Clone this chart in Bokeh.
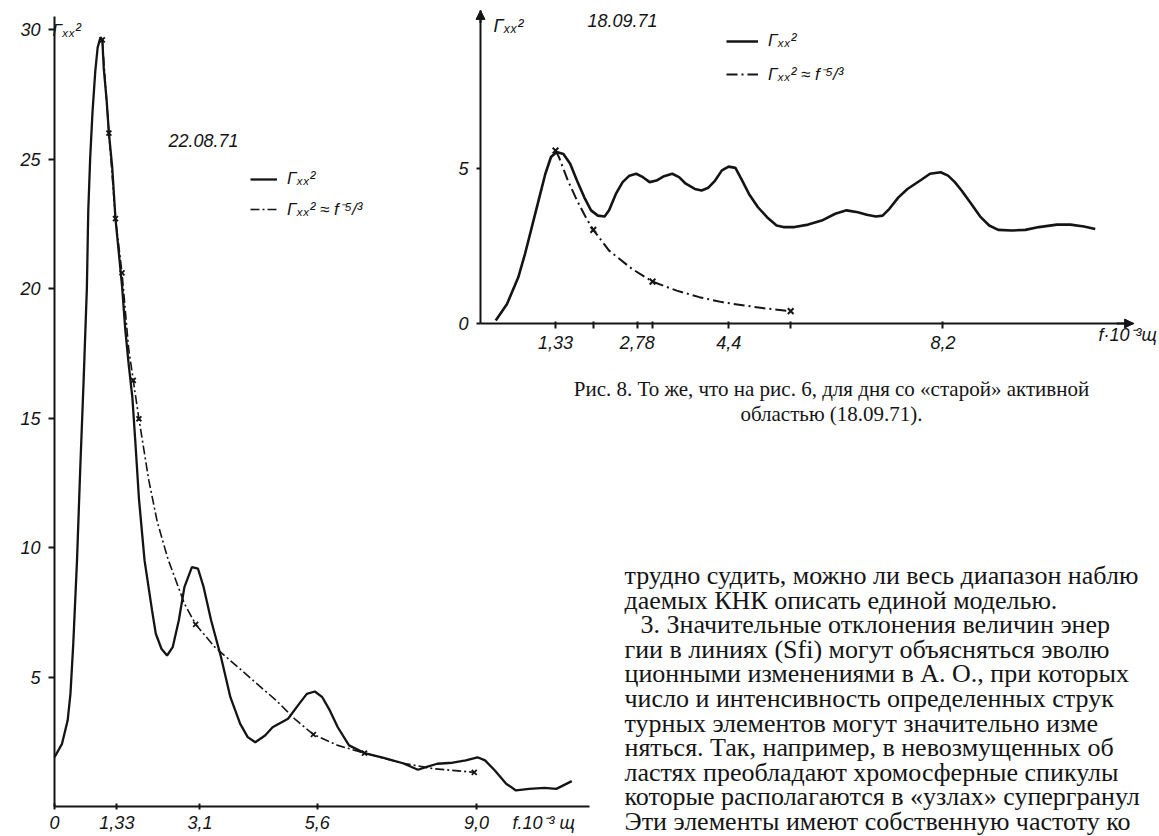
from bokeh.plotting import figure
from bokeh.models import Range1d, LinearAxis, FixedTicker, Legend, LegendItem, Arrow, NormalHead
from bokeh.core.properties import value
from bokeh.embed import file_html
from bokeh.resources import INLINE

# ---------------- data: left chart (22.08.71) ----------------
left_f = [0.00, 0.16, 0.28, 0.34, 0.40, 0.48, 0.55, 0.62, 0.69, 0.72, 0.76, 0.81, 0.87, 0.92, 0.98,
          1.02, 1.05, 1.11, 1.16, 1.23, 1.30, 1.37, 1.44, 1.51, 1.58, 1.66, 1.73, 1.80, 1.92, 2.08,
          2.16, 2.28, 2.40, 2.52, 2.65, 2.77, 2.93, 3.06, 3.18, 3.34, 3.55, 3.75, 3.96, 4.12, 4.28,
          4.49, 4.65, 4.98, 5.22, 5.38, 5.55, 5.71, 5.87, 6.04, 6.28, 6.61, 7.02, 7.43, 7.75, 7.92,
          8.16, 8.49, 8.77, 9.02, 9.18, 9.39, 9.63, 9.84, 10.12, 10.45, 10.70, 11.03]
left_g = [1.90, 2.42, 3.32, 4.35, 6.28, 9.50, 13.1, 16.4, 20.0, 23.0, 25.0, 26.8, 28.4, 29.3, 29.7,
          29.6, 28.5, 27.3, 26.0, 24.7, 22.7, 21.4, 20.1, 18.4, 17.1, 15.8, 13.9, 11.9, 9.5, 7.57,
          6.67, 6.09, 5.83, 6.15, 7.18, 8.47, 9.24, 9.18, 8.47, 7.18, 5.77, 4.22, 3.19, 2.68, 2.48,
          2.74, 3.06, 3.39, 3.97, 4.35, 4.44, 4.22, 3.71, 3.06, 2.36, 2.06, 1.88, 1.67, 1.42, 1.52,
          1.65, 1.69, 1.78, 1.90, 1.78, 1.39, 0.88, 0.62, 0.68, 0.72, 0.68, 0.98]
left_fit_f = [1.02, 1.16, 1.30, 1.44, 1.58, 1.68, 1.80, 2.01, 2.19, 2.42, 2.77, 3.01, 3.42, 3.83,
              4.24, 4.73, 5.14, 5.52, 6.04, 6.61, 7.43, 8.08, 8.95]
left_fit_g = [29.6, 26.0, 22.7, 20.6, 17.7, 16.45, 14.97, 12.6, 11.0, 9.55, 7.83, 7.03, 6.15, 5.51,
              4.86, 4.09, 3.35, 2.78, 2.36, 2.06, 1.67, 1.46, 1.32]
left_mark_f = [1.02, 1.16, 1.30, 1.44, 1.68, 1.80, 3.01, 5.52, 6.61, 8.95]
left_mark_g = [29.6, 26.0, 22.7, 20.6, 16.45, 14.97, 7.03, 2.78, 2.06, 1.32]
left_xticks = [0, 1.33, 3.1, 5.6, 9.0]
left_xlabels = ["0", "1,33", "3,1", "5,6", "9,0"]
left_yticks = [5, 10, 15, 20, 25, 30]

# ---------------- data: right chart (18.09.71) ----------------
right_f = [0.27, 0.47, 0.67, 0.79, 0.91, 1.03, 1.15, 1.25, 1.35, 1.47, 1.59, 1.71, 1.84, 1.96, 2.08,
           2.20, 2.28, 2.40, 2.52, 2.64, 2.76, 2.88, 3.00, 3.12, 3.24, 3.40, 3.52, 3.64, 3.80, 3.92,
           4.04, 4.16, 4.28, 4.40, 4.52, 4.64, 4.76, 4.92, 5.08, 5.25, 5.37, 5.57, 5.81, 6.05, 6.29,
           6.49, 6.69, 6.85, 7.01, 7.13, 7.25, 7.41, 7.57, 7.81, 7.97, 8.16, 8.29, 8.41, 8.53, 8.70,
           8.86, 9.02, 9.18, 9.42, 9.66, 9.90, 10.22, 10.46, 10.70, 10.90]
right_g = [0.10, 0.63, 1.49, 2.25, 3.11, 3.97, 4.83, 5.37, 5.53, 5.47, 5.15, 4.61, 4.07, 3.65, 3.48,
           3.45, 3.65, 4.18, 4.56, 4.77, 4.83, 4.72, 4.56, 4.61, 4.74, 4.83, 4.72, 4.51, 4.34, 4.29,
           4.38, 4.61, 4.94, 5.06, 5.02, 4.61, 4.18, 3.75, 3.43, 3.16, 3.11, 3.11, 3.19, 3.32, 3.54,
           3.65, 3.59, 3.51, 3.45, 3.48, 3.70, 4.07, 4.34, 4.63, 4.83, 4.88, 4.77, 4.56, 4.29, 3.86,
           3.45, 3.16, 3.02, 3.00, 3.02, 3.11, 3.19, 3.19, 3.13, 3.05]
right_fit_f = [1.33, 1.39, 1.55, 1.71, 1.88, 2.00, 2.28, 2.68, 3.05, 3.48, 3.88, 4.28, 4.68, 5.08, 5.50]
right_fit_g = [5.58, 5.37, 4.61, 3.97, 3.38, 3.02, 2.35, 1.77, 1.35, 1.06, 0.85, 0.69, 0.58, 0.48, 0.40]
right_mark_f = [1.33, 2.00, 3.05, 5.50]
right_mark_g = [5.58, 3.02, 1.35, 0.40]
right_xticks = [1.33, 2.0, 2.78, 3.05, 4.4, 5.5, 8.2]
right_xlabels = ["1,33", "", "2,78", "", "4,4", "", "8,2"]
right_yticks = [0, 5]

caption_lines = ["Рис. 8. То же, что на рис. 6, для дня со «старой» активной",
                 "областью (18.09.71)."]
para_lines = ["трудно судить, можно ли весь диапазон наблю",
              "даемых КНК описать единой моделью.",
              "3. Значительные отклонения величин энер",
              "гии в линиях (Sfi) могут объясняться эволю",
              "ционными изменениями в А. О., при которых",
              "число и интенсивность определенных струк",
              "турных элементов могут значительно изме",
              "няться. Так, например, в невозмущенных об",
              "ластях преобладают хромосферные спикулы",
              "которые располагаются в «узлах» супергранул",
              "Эти элементы имеют собственную частоту ко"]

# ---------------- layout / calibration (reference-image pixels) ----------------
INK = "#141414"
W, H = 1159, 836
PX0, PX1 = 0, W
PY0, PY1 = 0, H
L_X0, L_XS, L_Y0, L_YS = 54.0, 46.9, 806.0, 25.9
R_X0, R_XS, R_Y0, R_YS = 480.0, 56.4, 323.0, 31.0
L_XEND, L_YTOP = 11.4, 30.5
R_XEND, R_YTOP = 11.58, 10.1
LAB = "Liberation Sans"


def xr(x0, xs):
    return Range1d((PX0 - x0) / xs, (PX1 - x0) / xs)


def yr(y0, ys):
    return Range1d((y0 - PY1) / ys, (y0 - PY0) / ys)


p = figure(width=W, height=H, x_range=Range1d(PX0, PX1), y_range=Range1d(PY1, PY0),
           x_axis_type=None, y_axis_type=None, output_backend="svg", toolbar_location=None,
           min_border=0, outline_line_color=None, background_fill_color="white",
           border_fill_color="white")
p.title.visible = False
p.extra_x_ranges = {"lx": xr(L_X0, L_XS), "rx": xr(R_X0, R_XS)}
p.extra_y_ranges = {"ly": yr(L_Y0, L_YS), "ry": yr(R_Y0, R_YS)}


def style_axis(ax, size, standoff, tin, tout):
    ax.axis_line_color = INK
    ax.axis_line_width = 2
    ax.major_tick_line_color = INK
    ax.major_tick_line_width = 2
    ax.major_tick_in = tin
    ax.major_tick_out = tout
    ax.minor_tick_in = 0
    ax.minor_tick_out = 0
    ax.major_label_text_font = LAB
    ax.major_label_text_font_style = "italic"
    ax.major_label_text_font_size = size
    ax.major_label_text_color = INK
    ax.major_label_standoff = standoff


# left chart axes
lxa = LinearAxis(x_range_name="lx", y_range_name="ly", fixed_location=0, bounds=(0, L_XEND),
                 ticker=FixedTicker(ticks=left_xticks, minor_ticks=[]),
                 major_label_overrides=dict(zip(left_xticks, left_xlabels)))
style_axis(lxa, "18px", 6, 3, 3)
p.add_layout(lxa, "below")
lya = LinearAxis(x_range_name="lx", y_range_name="ly", fixed_location=0, bounds=(0, L_YTOP),
                 ticker=FixedTicker(ticks=left_yticks, minor_ticks=[]))
style_axis(lya, "18px", 8, 0, 6)
p.add_layout(lya, "left")

# right chart axes
rxa = LinearAxis(x_range_name="rx", y_range_name="ry", fixed_location=0, bounds=(0, R_XEND),
                 ticker=FixedTicker(ticks=right_xticks, minor_ticks=[]),
                 major_label_overrides=dict(zip(right_xticks, right_xlabels)))
style_axis(rxa, "18px", 7, 2, 5)
p.add_layout(rxa, "below")
rya = LinearAxis(x_range_name="rx", y_range_name="ry", fixed_location=0, bounds=(0, R_YTOP),
                 ticker=FixedTicker(ticks=right_yticks, minor_ticks=[]))
style_axis(rya, "18px", 8, 0, 4)
p.add_layout(rya, "left")
p.add_layout(Arrow(end=NormalHead(size=9, fill_color=INK, line_color=INK), line_color=INK, line_width=2,
                   x_start=0, y_start=R_YTOP - 0.4, x_end=0, y_end=R_YTOP,
                   x_range_name="rx", y_range_name="ry"))
p.add_layout(Arrow(end=NormalHead(size=9, fill_color=INK, line_color=INK), line_color=INK, line_width=2,
                   x_start=R_XEND - 0.3, y_start=0, x_end=R_XEND, y_end=0,
                   x_range_name="rx", y_range_name="ry"))

# left chart curves
l_solid = p.line(left_f, left_g, x_range_name="lx", y_range_name="ly", line_color=INK, line_width=2.3)
l_fit = p.line(left_fit_f, left_fit_g, x_range_name="lx", y_range_name="ly", line_color=INK,
               line_width=1.6, line_dash="9 3 2 3")
p.scatter(left_mark_f, left_mark_g, x_range_name="lx", y_range_name="ly", marker="x", size=7,
          line_color=INK, line_width=1.8)

# right chart curves
r_solid = p.line(right_f, right_g, x_range_name="rx", y_range_name="ry", line_color=INK, line_width=2.6)
r_fit = p.line(right_fit_f, right_fit_g, x_range_name="rx", y_range_name="ry", line_color=INK,
               line_width=2.0, line_dash="11 4 2 4")
p.scatter(right_mark_f, right_mark_g, x_range_name="rx", y_range_name="ry", marker="x", size=8,
          line_color=INK, line_width=2)

# legends (location = bottom-left corner, in pixels from the bottom-left of the canvas)
G = "Γₓₓ²"
FIT = "Γₓₓ² ≈ f⁻⁵/³"
for items, loc, gw, sp in (([l_solid, l_fit], (250, H - 220), 27, 8),
                           ([r_solid, r_fit], (726, H - 85), 32, 11)):
    lg = Legend(items=[LegendItem(label=G, renderers=[items[0]]), LegendItem(label=FIT, renderers=[items[1]])],
                location=loc, padding=0, margin=0, spacing=sp, glyph_width=gw, glyph_height=20,
                label_height=20, label_standoff=10, border_line_color=None, background_fill_alpha=0,
                label_text_font=LAB, label_text_font_style="italic", label_text_font_size="17px",
                label_text_color=INK)
    p.add_layout(lg)


# chart annotations (page coordinates)
def label(x, y, t, size="17px", align="left", font=LAB, style="italic"):
    p.text(x=[x], y=[y], text=[t], text_font=value(font), text_font_style=style,
           text_font_size=size, text_align=align, text_baseline="middle", text_color=INK)


label(52, 30, G)
label(168, 140, "22.08.71", size="18px")
label(512, 822, "f.10⁻³ щ", size="18px")
label(493, 25, G, size="18px")
label(587, 20, "18.09.71", size="18px")
label(1098, 334, "f·10⁻³щ", size="18px")

# caption and body text
for i, t in enumerate(caption_lines):
    label(831, 388 + 25 * i, t, size="21px", align="center", font="Liberation Serif", style="normal")
for i, t in enumerate(para_lines):
    x = 640 if i == 2 else 624
    label(x, 575 + 24.6 * i, t, size="26px", font="Liberation Serif", style="normal")

open("out.html", "w").write(file_html(p, INLINE))
